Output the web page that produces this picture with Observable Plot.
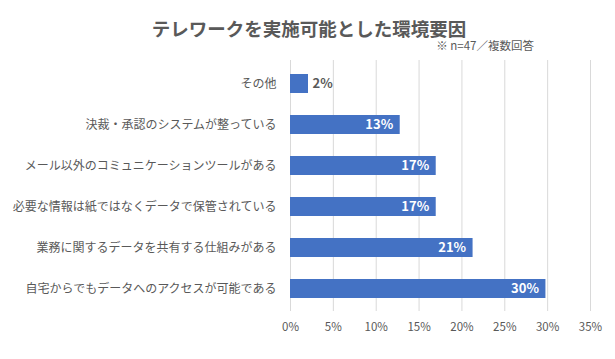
<!DOCTYPE html>
<html>
<head>
<meta charset="utf-8">
<script src="https://cdn.jsdelivr.net/npm/d3@7"></script>
<script src="https://cdn.jsdelivr.net/npm/@observablehq/plot@0.6"></script>
<style>
  html, body { margin: 0; padding: 0; background: #fff; }
  #wrap { position: relative; width: 615px; height: 359px; overflow: hidden; font-family: "Noto Sans CJK JP", "Noto Sans", sans-serif; }
  #title { position: absolute; left: 0; width: 618px; top: 19px; text-align: center; font-size: 18.5px; line-height: 18.5px; font-weight: bold; color: #595959; }
  #sub { position: absolute; right: 81px; top: 40px; font-size: 11.5px; line-height: 11.5px; color: #595959; }
  #chart { position: absolute; left: 0; top: 0; }
</style>
</head>
<body>
<div id="wrap">
  <div id="chart"></div>
  <div id="title">テレワークを実施可能とした環境要因</div>
  <div id="sub">※ n=47／複数回答</div>
</div>
<script>
const categories = [
  "その他",
  "決裁・承認のシステムが整っている",
  "メール以外のコミュニケーションツールがある",
  "必要な情報は紙ではなくデータで保管されている",
  "業務に関するデータを共有する仕組みがある",
  "自宅からでもデータへのアクセスが可能である"
];
const values = [2.1, 12.8, 17.0, 17.0, 21.3, 29.8];
const valueLabels = ["2%", "13%", "17%", "17%", "21%", "30%"];
const xTicks = [0, 5, 10, 15, 20, 25, 30, 35];

const data = categories.map((c, i) => ({cat: c, value: values[i], label: valueLabels[i], inside: i > 0}));

const chart = Plot.plot({
  width: 615,
  height: 359,
  marginTop: 60,
  marginBottom: 48,
  marginLeft: 290,
  marginRight: 25,
  style: {fontFamily: "'Noto Sans CJK JP', sans-serif", color: "#595959", background: "transparent"},
  x: {domain: [0, 35], ticks: xTicks},
  y: {domain: categories, paddingInner: 0.54, paddingOuter: 0.27},
  marks: [
    Plot.gridX(xTicks, {stroke: "#d9d9d9", strokeOpacity: 1, strokeWidth: 1}),
    Plot.barX(data, {x: "value", y: "cat", fill: "#4472C4"}),
    Plot.text(data.filter(d => d.inside), {x: "value", y: "cat", text: "label", textAnchor: "end", dx: -7, fill: "white", fontWeight: "bold", fontSize: 13}),
    Plot.text(data.filter(d => !d.inside), {x: "value", y: "cat", text: "label", textAnchor: "start", dx: 4, fill: "#595959", fontWeight: "bold", fontSize: 13}),
    Plot.axisX({ticks: xTicks, tickFormat: d => d + "%", tickSize: 0, tickPadding: 11, fontSize: 11.5, fill: "#595959", label: null}),
    Plot.axisY({tickSize: 0, tickPadding: 14, fontSize: 12, fill: "#595959", label: null})
  ]
});
document.getElementById("chart").appendChild(chart);
</script>
</body>
</html>
